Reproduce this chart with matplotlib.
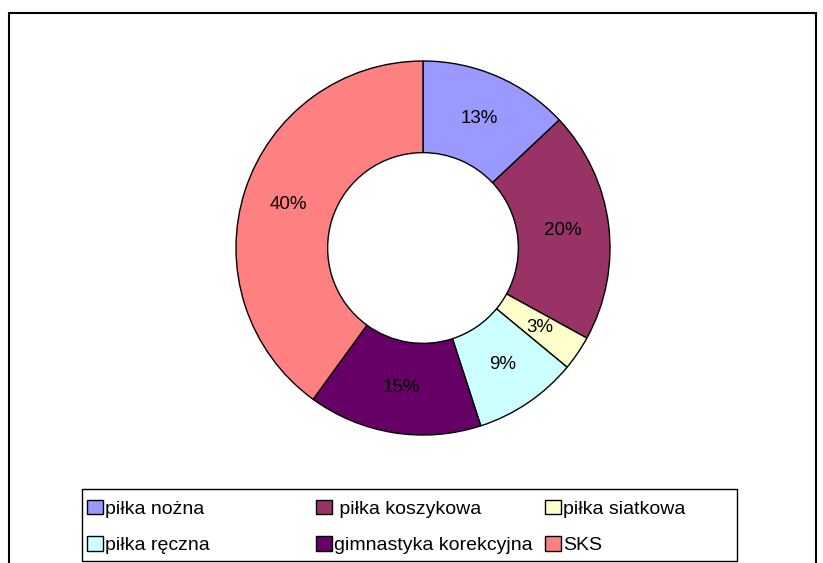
import numpy as np
import matplotlib.pyplot as plt
from matplotlib.patches import Rectangle, Patch

plt.rcParams['font.family'] = ['Liberation Sans', 'DejaVu Sans']

labels = ['piłka nożna', ' piłka koszykowa', 'piłka siatkowa',
          'piłka ręczna', 'gimnastyka korekcyjna', 'SKS']
values = [13, 20, 3, 9, 15, 40]
colors = ['#9999FF', '#993366', '#FFFFCC', '#CCFFFF', '#660066', '#FF8080']

W, H = 823, 563
fig = plt.figure(figsize=(W / 100, H / 100), dpi=100)

# outer frame (bottom is cut off in the original)
fig.patches.append(Rectangle((9 / W, -0.05), (816 - 9) / W, (H - 13) / H + 0.05,
                             transform=fig.transFigure, fill=False,
                             edgecolor='black', linewidth=1.5))

# donut
cx, cy, r = 423, 248, 187
ax = fig.add_axes([(cx - r) / W, (H - cy - r) / H, 2 * r / W, 2 * r / H])
wedges, texts, autotexts = ax.pie(values, colors=colors, startangle=90, counterclock=False,
                                  autopct='%.0f%%', pctdistance=0.755,
                                  wedgeprops=dict(width=0.49, edgecolor='black', linewidth=1))
for t in autotexts:
    t.set_fontsize(13.5)
    t.set_color('black')
ax.set_xlim(-1, 1)
ax.set_ylim(-1, 1)
ax.set_aspect('equal')
ax.axis('off')

# legend box
fig.patches.append(Rectangle((82 / W, (H - 561) / H), (737 - 82) / W, (561 - 489) / H,
                             transform=fig.transFigure, fill=False,
                             edgecolor='black', linewidth=1))

handles = [Patch(facecolor=c, edgecolor='black', linewidth=1) for c in colors]
col_x = [87, 316, 545]
for i in range(3):
    idx = [i, i + 3]
    fig.legend([handles[j] for j in idx], [labels[j] for j in idx],
               loc='center left', bbox_to_anchor=(col_x[i] / W, (H - 527) / H),
               frameon=False, borderpad=0, borderaxespad=0, fontsize=14,
               handlelength=0.8, handleheight=0.8, handletextpad=0.15,
               labelspacing=0.95)

fig.savefig('out.png', dpi=100)
